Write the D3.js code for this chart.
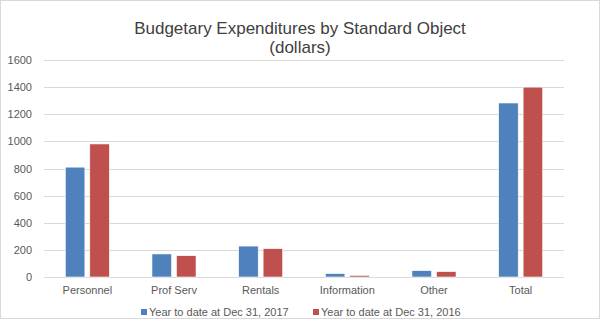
<!DOCTYPE html>
<html><head><meta charset="utf-8">
<script src="https://cdn.jsdelivr.net/npm/d3@7"></script>
<style>body{margin:0;background:#fff;} svg{display:block;}</style>
</head><body>
<script>
const categories = ["Personnel", "Prof Serv", "Rentals", "Information", "Other", "Total"];
const seriesNames = ["Year to date at Dec 31, 2017", "Year to date at Dec 31, 2016"];
const values2017 = [810, 170, 228, 25, 47, 1283];
const values2016 = [981, 157, 209, 12, 40, 1400];
const yTicks = [0, 200, 400, 600, 800, 1000, 1200, 1400, 1600];
const titleLines = ["Budgetary Expenditures by Standard Object", "(dollars)"];

const W = 600, H = 322;
const colors = ["#4f81bd", "#c0504d"];
const font = "'Liberation Sans', Arial, sans-serif";
const svg = d3.select("body").append("svg").attr("width", W).attr("height", H);
svg.append("rect").attr("x", 0.5).attr("y", 0.5).attr("width", W - 1).attr("height", H - 4)
  .attr("fill", "#fff").attr("stroke", "#d9d9d9");

const plot = {left: 44, right: 564, top: 60, bottom: 277};
const x0 = d3.scaleBand().domain(categories).range([plot.left, plot.right]).padding(0);
const x1 = d3.scaleBand().domain(seriesNames).range([0, x0.bandwidth()]).paddingInner(0.2).paddingOuter(0.87);
const y = d3.scaleLinear().domain([0, 1600]).range([plot.bottom, plot.top]);

// gridlines
svg.append("g").selectAll("line").data(yTicks).join("line")
  .attr("x1", plot.left).attr("x2", plot.right)
  .attr("y1", d => Math.round(y(d)) + 0.5).attr("y2", d => Math.round(y(d)) + 0.5)
  .attr("stroke", "#d9d9d9").attr("stroke-width", 1);

// y axis labels
const yAxis = d3.axisLeft(y).tickValues(yTicks).tickFormat(d3.format("d")).tickSize(0).tickPadding(0);
const ya = svg.append("g").attr("transform", `translate(32,0)`).call(yAxis);
ya.select(".domain").remove();
ya.selectAll("text").attr("font-family", font).attr("font-size", 11).attr("fill", "#595959");

// bars
const data = categories.map((c, i) => ({cat: c, vals: [values2017[i], values2016[i]]}));
const groups = svg.append("g").selectAll("g").data(data).join("g")
  .attr("transform", d => `translate(${x0(d.cat)},0)`);
groups.selectAll("rect").data(d => d.vals.map((v, j) => ({s: seriesNames[j], v, j})))
  .join("rect")
  .attr("x", d => x1(d.s)).attr("width", x1.bandwidth())
  .attr("y", d => y(d.v)).attr("height", d => y(0) - y(d.v))
  .attr("fill", d => colors[d.j]).attr("stroke", "#fff").attr("stroke-width", 0.6);

// x axis labels
const xAxis = d3.axisBottom(x0).tickSize(0).tickPadding(0);
const xa = svg.append("g").attr("transform", `translate(0,${plot.bottom + 9})`).call(xAxis);
xa.select(".domain").remove();
xa.selectAll("text").attr("font-family", font).attr("font-size", 11).attr("fill", "#595959");

// title
svg.append("g").selectAll("text").data(titleLines).join("text")
  .attr("x", 300).attr("y", (d, i) => 34 + i * 19)
  .attr("text-anchor", "middle").attr("font-family", font).attr("font-size", 17)
  .attr("fill", "#404040").text(d => d);

// legend
const legendX = [141, 313];
const lg = svg.append("g").selectAll("g").data(seriesNames).join("g")
  .attr("transform", (d, i) => `translate(${legendX[i]},312)`);
lg.append("rect").attr("x", 0).attr("y", -3).attr("width", 6).attr("height", 6)
  .attr("fill", (d, i) => colors[i]);
lg.append("text").attr("x", 8).attr("y", 4).attr("font-family", font).attr("font-size", 11)
  .attr("fill", "#595959").text(d => d);
</script>
</body></html>
